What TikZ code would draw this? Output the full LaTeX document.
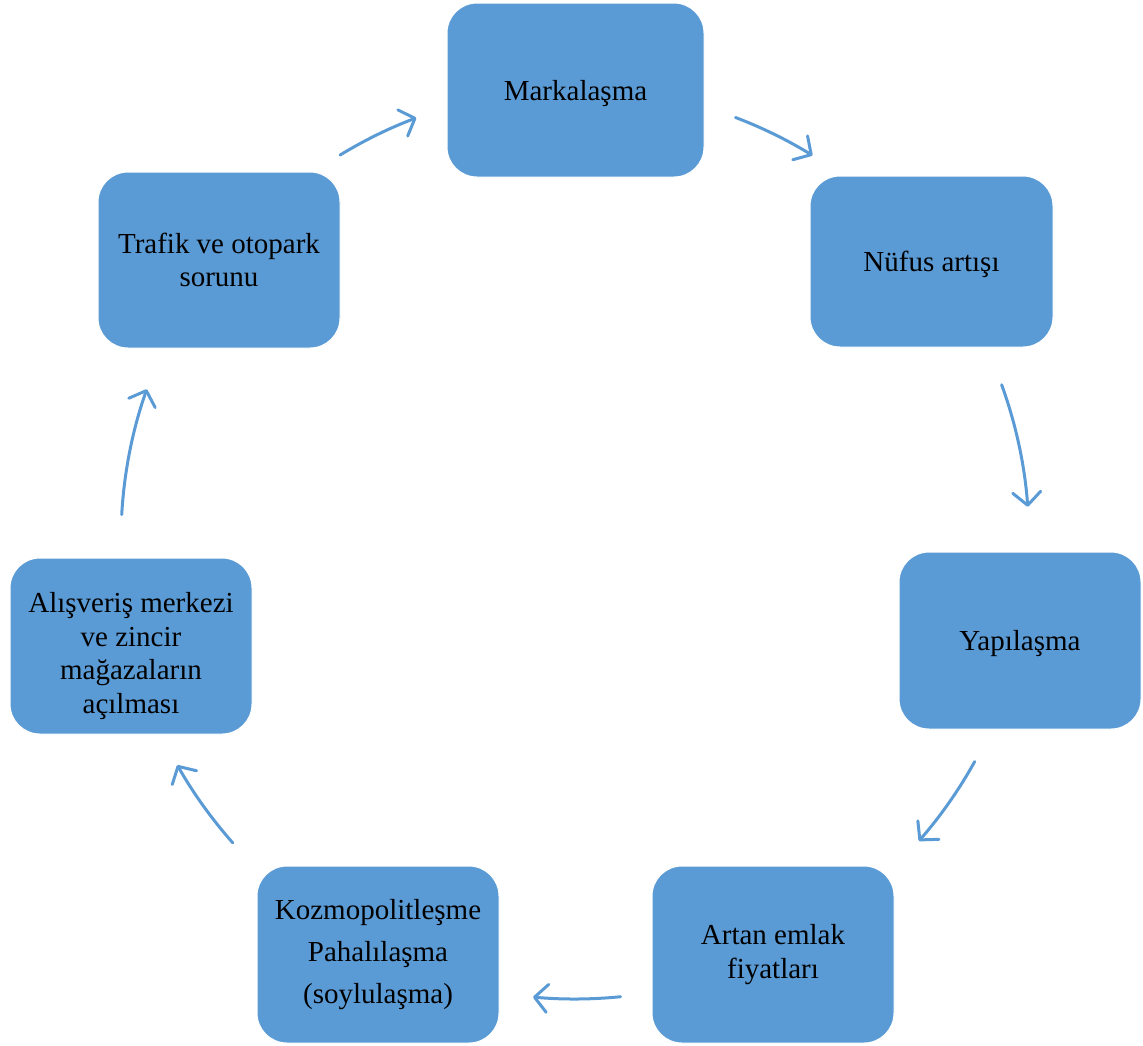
\documentclass[tikz,border=0pt]{standalone}
\usepackage{fontspec}
\setmainfont{Liberation Serif}
\usetikzlibrary{arrows.meta,calc}
\definecolor{boxblue}{HTML}{5B9BD5}
\newcommand{\upstrut}[1]{\rule{0pt}{#1}}
\tikzset{
  box/.style={draw=white, line width=1pt, fill=boxblue, rounded corners=30pt,
    align=center, inner sep=0pt, font=\fontsize{29pt}{33.5pt}\selectfont},
  arr/.style={draw=boxblue, line width=3pt, line cap=round,
    -{Straight Barb[length=13pt,width=28pt,line width=3pt,round]}}
}
\begin{document}
\begin{tikzpicture}[x=1pt,y=-1pt]
\useasboundingbox (0,0) rectangle (1143,1045);
\node[box, minimum width=257pt, minimum height=174pt] (m) at (575.5,90) {\upstrut{27pt}Markalaşma};
\node[box, minimum width=243pt, minimum height=171pt] (n) at (931.5,261.5) {\upstrut{27pt}Nüfus artışı};
\node[box, minimum width=242pt, minimum height=177pt] (y) at (1020,640.5) {\upstrut{27pt}Yapılaşma};
\node[box, minimum width=242pt, minimum height=177pt] (e) at (773,954.5) {Artan emlak\\fiyatları};
\node[box, minimum width=242pt, minimum height=177pt, font=\fontsize{29pt}{42pt}\selectfont] (k) at (378,954.5) {Kozmopolitleşme\\Pahalılaşma\\(soylulaşma)};
\node[box, minimum width=242pt, minimum height=176pt] (a) at (131,646) {\upstrut{40pt}Alışveriş merkezi\\ve zincir\\mağazaların\\açılması};
\node[box, minimum width=242pt, minimum height=176pt] (t) at (219,260) {Trafik ve otopark\\sorunu};
\coordinate (O) at (575,540);
\coordinate (s1) at ($(O)+(238.6:451)$);
\coordinate (s2) at ($(O)+(290.8:452)$);
\coordinate (s3) at ($(O)+(340.0:454)$);
\coordinate (s4) at ($(O)+(29.0:457)$);
\coordinate (s5) at ($(O)+(84.3:459)$);
\coordinate (s6) at ($(O)+(138.5:457)$);
\coordinate (s7) at ($(O)+(183.2:454)$);
\draw[arr] (s1) arc[start angle=238.6, end angle=249.4, radius=451];
\draw[arr] (s2) arc[start angle=290.8, end angle=301.7, radius=452];
\draw[arr] (s3) arc[start angle=340.0, end angle=355.8, radius=454];
\draw[arr] (s4) arc[start angle=29.0, end angle=41.2, radius=457];
\draw[arr] (s5) arc[start angle=84.3, end angle=95.25, radius=459];
\draw[arr] (s6) arc[start angle=138.5, end angle=150.5, radius=457];
\draw[arr] (s7) arc[start angle=183.2, end angle=199.4, radius=454];
\end{tikzpicture}
\end{document}
